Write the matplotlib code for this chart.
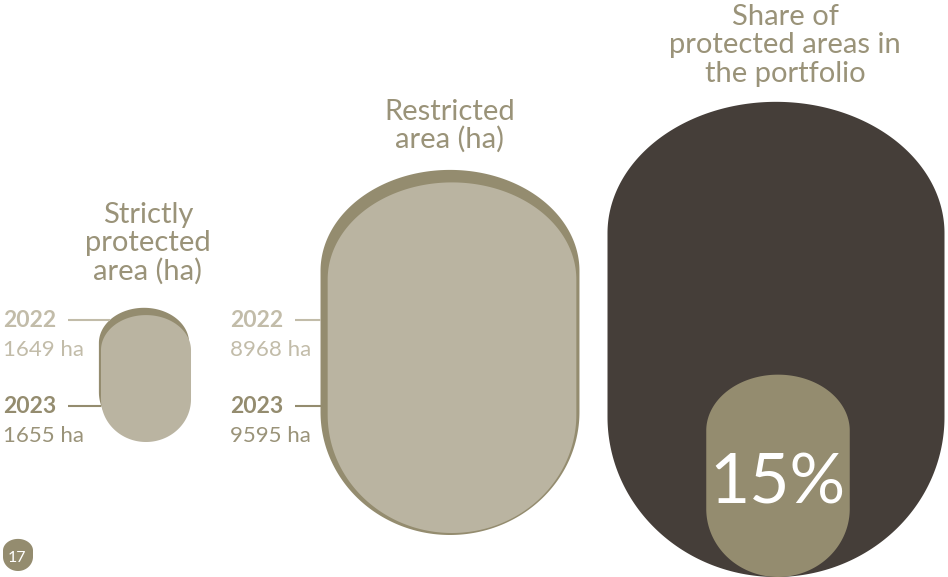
import numpy as np
import matplotlib.pyplot as plt

years = ["2022", "2023"]
strict_ha = [1649, 1655]
restricted_ha = [8968, 9595]
share_protected = 0.15
titles = ["Strictly\nprotected\narea (ha)", "Restricted\narea (ha)",
          "Share of\nprotected areas in\nthe portfolio"]
page_no = "17"

light = "#bab4a1"
olive = "#948c6f"
dark = "#453e39"
text_col = "#9a9379"
year_cols = ["#c2bca9", olive]

plt.rcParams['font.family'] = ['Lato', 'DejaVu Sans']

# egg-like capsule: elliptic caps, straight sides
RATIO, TOPCAP, BOTCAP = 1.41, 0.39, 0.475


def blob(cx, bottom, w, ratio=RATIO, num=200):
    h = ratio * w
    ct, cb = TOPCAP * w, BOTCAP * w
    yt, yb = bottom - h + ct, bottom - cb
    t1 = np.linspace(np.pi, 2 * np.pi, num)
    t2 = np.linspace(0, np.pi, num)
    xs = np.r_[cx + w / 2 * np.cos(t1), cx + w / 2 * np.cos(t2)]
    ys = np.r_[yt + ct * np.sin(t1), yb + cb * np.sin(t2)]
    return xs, ys


def left_edge(cx, bottom, w, y):
    h = RATIO * w
    ct, cb = TOPCAP * w, BOTCAP * w
    yt, yb = bottom - h + ct, bottom - cb
    if y < yt:
        f = 1 - ((yt - y) / ct) ** 2
    elif y > yb:
        f = 1 - ((y - yb) / cb) ** 2
    else:
        f = 1.0
    return cx - w / 2 * np.sqrt(max(f, 0))


def width(v):
    # visual scale used for the ha shapes
    return 1.49 * v ** 0.6 / RATIO


fig = plt.figure(figsize=(9.48, 5.77), dpi=100)
ax = fig.add_axes([0, 0, 1, 1])
ax.set_xlim(0, 948)
ax.set_ylim(577, 0)
ax.axis('off')

# values, shape centre x, shape bottom, shift of 2023 shape, title x,
# last title baseline, label x
groups = [(strict_ha, 146, 442, (-2, -7), 148, 280, 3),
          (restricted_ha, 452, 533, (-2, 2), 450, 148, 230)]
for gi, (vals, cx, bot, shift, tx, ty, lx) in enumerate(groups):
    wb = width(vals[1])
    bx, bb = cx + shift[0], bot + shift[1]
    ax.fill(*blob(bx, bb, wb), color=olive, lw=0)
    ax.fill(*blob(cx, bot, width(vals[0])), color=light, lw=0)

    for i, (yr, v) in enumerate(zip(years, vals)):
        ly = 319.5 + i * 86
        ax.plot([lx + 65, left_edge(bx, bb, wb, ly)], [ly, ly],
                color=year_cols[i], lw=1.5, solid_capstyle='butt')
        y0 = 327 + i * 86
        ax.text(lx, y0, yr, color=year_cols[i], fontsize=16.5,
                fontweight='bold', va='baseline', ha='left')
        ax.text(lx, y0 + 29, f"{v} ha", color=year_cols[0] if i == 0 else text_col,
                fontsize=16, va='baseline', ha='left')

    lines = titles[gi].split("\n")
    for j, s in enumerate(lines):
        ax.text(tx, ty - 28.5 * (len(lines) - 1 - j), s, color=text_col,
                fontsize=21, ha='center', va='baseline')

# share of protected areas
ow = 337
ax.fill(*blob(776, 577, ow), color=dark, lw=0)
ax.fill(*blob(778, 577, ow * share_protected ** 0.45), color=olive, lw=0)
ax.text(777, 503, f"{share_protected:.0%}", color="white", fontsize=50,
        ha='center', va='baseline')
for j, s in enumerate(titles[2].split("\n")):
    ax.text(785, 25 + 28.5 * j, s, color=text_col, fontsize=21,
            ha='center', va='baseline')

# page number badge
ax.fill(*blob(18, 571, 30, ratio=1.07), color=olive, lw=0)
ax.text(17, 562, page_no, color="white", fontsize=11.5, ha='center',
        va='baseline')

fig.savefig("out.png", dpi=100)
